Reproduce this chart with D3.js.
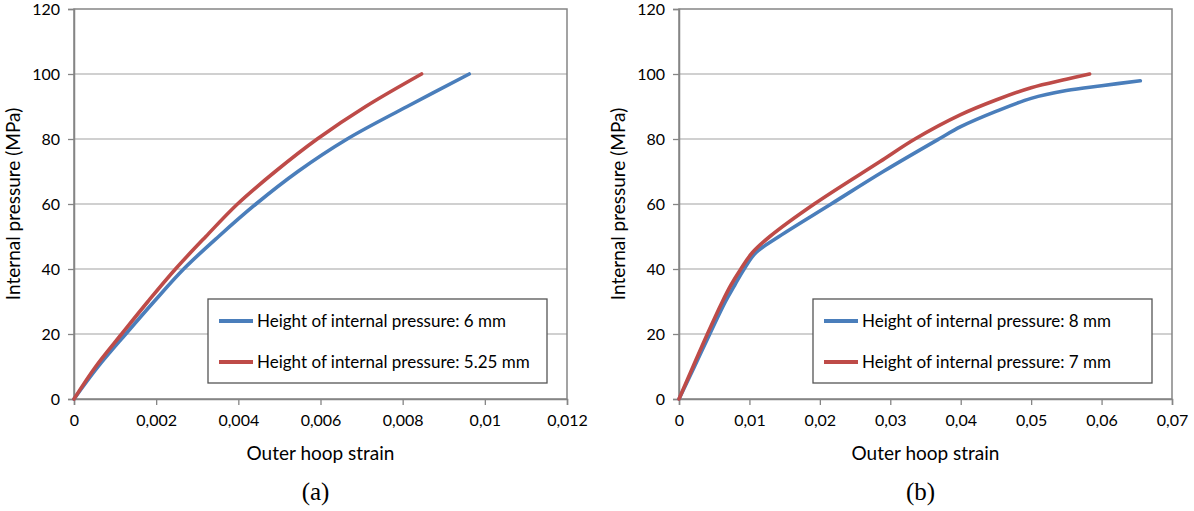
<!DOCTYPE html>
<html>
<head>
<meta charset="utf-8">
<script src="https://cdn.jsdelivr.net/npm/d3@7"></script>
<style>
  body { margin: 0; background: #fff; }
  svg text { font-family: Lato, "Open Sans", sans-serif; fill: #000; }
</style>
</head>
<body>
<svg id="chart" width="1194" height="511"></svg>
<script>
// panel (a) : height 6 mm / 5.25 mm
const strainA6 = [0, 0.00059, 0.00126, 0.00195, 0.00267, 0.00352, 0.00443, 0.00545, 0.00665, 0.00811, 0.00962];
const pressA6 = [0, 10, 20, 30, 40, 50, 60, 70, 80, 90, 100];
const strainA525 = [0, 0.00053, 0.00116, 0.0018, 0.00247, 0.00321, 0.00398, 0.0049, 0.00592, 0.0071, 0.00846];
const pressA525 = [0, 10, 20, 30, 40, 50, 60, 70, 80, 90, 100];

// panel (b) : height 8 mm / 7 mm
const strainB8 = [0, 0.0022, 0.00437, 0.0066, 0.0079, 0.00925, 0.0109, 0.0142, 0.0216, 0.029, 0.0369, 0.04, 0.045, 0.05, 0.055, 0.06, 0.0655];
const pressB8 = [0, 10, 20, 30, 35, 40, 45, 50, 60, 70, 80, 83.8, 88.5, 92.5, 94.9, 96.4, 97.9];
const strainB7 = [0, 0.002, 0.00403, 0.00617, 0.00736, 0.00878, 0.0104, 0.0129, 0.0192, 0.0285, 0.0335, 0.04, 0.045, 0.05, 0.055, 0.0583];
const pressB7 = [0, 10, 20, 30, 35, 40, 45, 50, 60, 73, 80, 87.5, 92, 95.8, 98.4, 100];

const yTicks = [0, 20, 40, 60, 80, 100, 120];
const xTicksA = [0, 0.002, 0.004, 0.006, 0.008, 0.01, 0.012];
const xTicksB = [0, 0.01, 0.02, 0.03, 0.04, 0.05, 0.06, 0.07];

const blue = "#4a7ebb", red = "#be4b48";

const panels = [
  { left: 74, right: 567, xMax: 0.012, xTicks: xTicksA, tag: "(a)",
    legend: { x: 208, y: 299, w: 339, h: 84 },
    series: [
      { label: "Height of internal pressure: 6 mm", color: blue, xs: strainA6, ys: pressA6 },
      { label: "Height of internal pressure: 5.25 mm", color: red, xs: strainA525, ys: pressA525 }
    ] },
  { left: 679, right: 1172, xMax: 0.07, xTicks: xTicksB, tag: "(b)",
    legend: { x: 813, y: 299, w: 339, h: 84 },
    series: [
      { label: "Height of internal pressure: 8 mm", color: blue, xs: strainB8, ys: pressB8 },
      { label: "Height of internal pressure: 7 mm", color: red, xs: strainB7, ys: pressB7 }
    ] }
];

const plotTop = 9, plotBottom = 399;
const svg = d3.select("#chart");
const fmt = d => String(d).replace(".", ",");

panels.forEach(p => {
  const x = d3.scaleLinear().domain([0, p.xMax]).range([p.left, p.right]);
  const y = d3.scaleLinear().domain([0, 120]).range([plotBottom, plotTop]);
  const g = svg.append("g");

  // gridlines
  g.append("g")
    .selectAll("line")
    .data(yTicks.filter(d => d > 0 && d < 120))
    .join("line")
    .attr("x1", p.left).attr("x2", p.right)
    .attr("y1", d => y(d)).attr("y2", d => y(d))
    .attr("stroke", "#c0c0c0").attr("stroke-width", 1.3);

  // plot border
  g.append("rect")
    .attr("x", p.left).attr("y", plotTop)
    .attr("width", p.right - p.left).attr("height", plotBottom - plotTop)
    .attr("fill", "none").attr("stroke", "#858585").attr("stroke-width", 1.5);

  const yAxis = g.append("g")
    .attr("transform", `translate(${p.left},0)`)
    .call(d3.axisLeft(y).tickValues(yTicks).tickSize(6).tickPadding(8).tickFormat(d => d));
  const xAxis = g.append("g")
    .attr("transform", `translate(0,${plotBottom})`)
    .call(d3.axisBottom(x).tickValues(p.xTicks).tickSize(6).tickPadding(10).tickFormat(fmt));
  [yAxis, xAxis].forEach(a => {
    a.select(".domain").attr("stroke", "#858585").attr("stroke-width", 1.5);
    a.selectAll(".tick line").attr("stroke", "#858585").attr("stroke-width", 1.3);
    a.selectAll("text").attr("font-size", 16).attr("font-family", "Lato, sans-serif").attr("fill", "#222");
  });

  // curves
  const line = d3.line().x(d => x(d[0])).y(d => y(d[1])).curve(d3.curveCatmullRom.alpha(0.5));
  p.series.forEach(s => {
    g.append("path")
      .datum(s.xs.map((v, i) => [v, s.ys[i]]))
      .attr("d", line)
      .attr("fill", "none")
      .attr("stroke", s.color)
      .attr("stroke-width", 3.6)
      .attr("stroke-linecap", "round");
  });

  // legend
  const lg = g.append("g").attr("transform", `translate(${p.legend.x},${p.legend.y})`);
  lg.append("rect")
    .attr("width", p.legend.w).attr("height", p.legend.h)
    .attr("fill", "#fff").attr("stroke", "#555").attr("stroke-width", 1.3);
  p.series.forEach((s, i) => {
    const ly = 22 + i * 41;
    lg.append("line")
      .attr("x1", 11).attr("x2", 45).attr("y1", ly).attr("y2", ly)
      .attr("stroke", s.color).attr("stroke-width", 4);
    lg.append("text")
      .attr("x", 49).attr("y", ly).attr("dy", "0.35em")
      .attr("font-size", 17)
      .text(s.label);
  });

  // axis titles
  g.append("text")
    .attr("x", (p.left + p.right) / 2).attr("y", 460)
    .attr("text-anchor", "middle").attr("font-size", 19)
    .text("Outer hoop strain");
  g.append("text")
    .attr("transform", `translate(${p.left - 54},${(plotTop + plotBottom) / 2}) rotate(-90)`)
    .attr("text-anchor", "middle").attr("font-size", 19)
    .text("Internal pressure (MPa)");
  g.append("text")
    .attr("x", (p.left + p.right) / 2 - 5).attr("y", 500)
    .attr("text-anchor", "middle").attr("font-size", 25)
    .style("font-family", "'Liberation Serif', serif")
    .text(p.tag);
});
</script>
</body>
</html>
